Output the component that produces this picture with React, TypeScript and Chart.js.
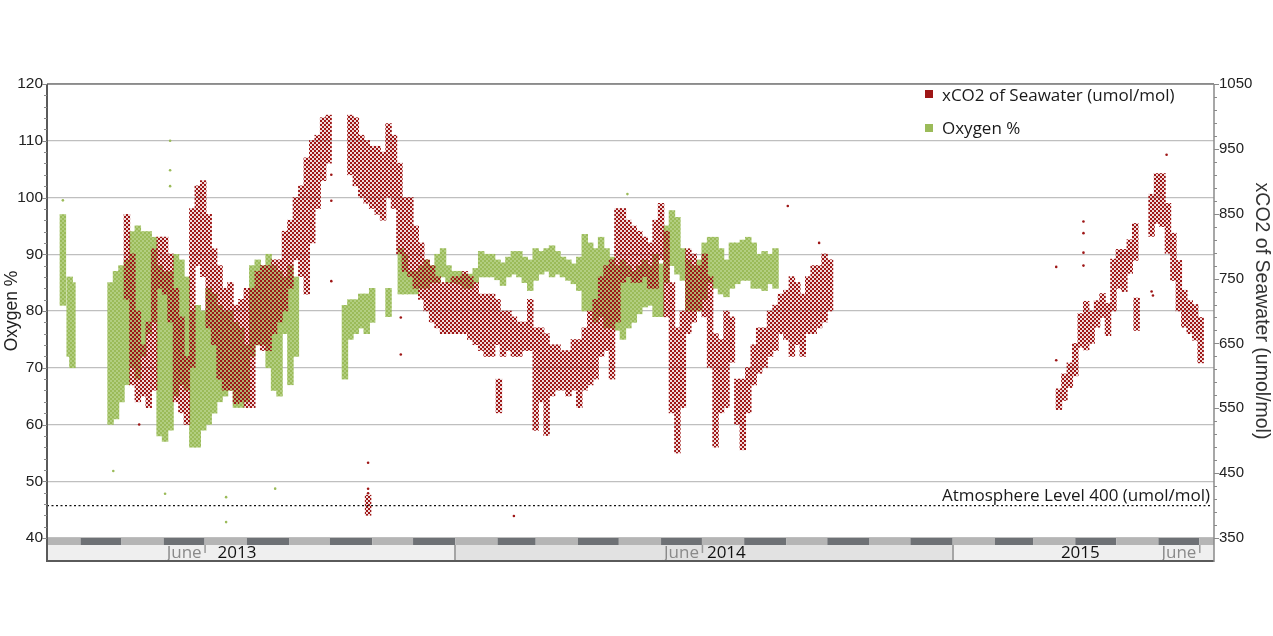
import { useEffect, useRef } from 'react';
import { Chart, registerables } from 'chart.js';

Chart.register(...registerables);

// x values are days counted from 1 Jan 2013
const axisStartDay = 65.35;
const axisEndDay = 921.8;
const atmosphereLevel = 400;

const co2Label = 'xCO2 of Seawater (umol/mol)';
const oxygenLabel = 'Oxygen %';
const yearLabels = ['2013', '2014', '2015'];

// [day, low, high] xCO2 in umol/mol
const co2Ranges: [number, number, number][] = [
  [124, 718, 849], [128, 586, 788], [132, 560, 700], [136, 569, 648], [140, 551, 683],
  [144, 578, 796], [148, 735, 814], [152, 726, 814], [156, 683, 788], [160, 560, 735],
  [164, 543, 691], [168, 525, 630], [172, 613, 858], [176, 770, 893], [180, 753, 901],
  [184, 674, 849], [188, 648, 796], [192, 595, 770], [196, 578, 735], [200, 578, 744],
  [204, 557, 709], [208, 560, 718], [212, 551, 735], [216, 551, 735], [220, 648, 761],
  [224, 639, 770], [228, 639, 770], [232, 665, 779], [236, 683, 779], [240, 700, 823],
  [244, 735, 840], [248, 779, 875], [252, 753, 893], [256, 726, 936], [260, 805, 963],
  [264, 858, 971], [268, 901, 998], [272, 928, 1002],
  [288, 910, 1002], [292, 893, 998], [296, 875, 971], [300, 866, 963], [301, 385, 416],
  [304, 858, 954], [308, 849, 954], [312, 840, 945], [316, 875, 989], [320, 858, 971],
  [324, 788, 928], [328, 761, 875], [332, 753, 875], [336, 735, 831], [340, 718, 805],
  [344, 700, 779], [348, 683, 770], [352, 674, 753], [356, 665, 744], [360, 665, 744],
  [364, 665, 753], [368, 665, 753], [372, 665, 761], [376, 656, 753], [380, 648, 744],
  [384, 639, 726], [388, 630, 726], [392, 630, 726], [396, 648, 718], [397, 543, 595],
  [400, 630, 700], [404, 639, 700], [408, 630, 691], [412, 630, 683], [416, 639, 683],
  [420, 639, 718], [424, 516, 674], [428, 560, 674], [432, 508, 665], [436, 569, 648],
  [440, 578, 648], [444, 578, 639], [448, 569, 639], [452, 578, 656], [456, 551, 656],
  [460, 578, 674], [464, 586, 700], [468, 595, 718], [472, 630, 753], [476, 639, 770],
  [480, 595, 779], [484, 683, 858], [488, 744, 858], [492, 753, 840], [496, 744, 831],
  [500, 744, 823], [504, 753, 814], [508, 735, 805], [512, 735, 840], [516, 779, 866],
  [520, 691, 823], [524, 543, 744], [528, 481, 674], [532, 551, 700], [536, 665, 796],
  [540, 683, 788], [544, 700, 770], [548, 691, 788], [552, 613, 753], [556, 490, 665],
  [560, 543, 656], [564, 551, 700], [568, 621, 691], [572, 525, 595], [576, 486, 595],
  [580, 543, 613], [584, 586, 648], [588, 604, 674], [592, 613, 674], [596, 630, 700],
  [600, 639, 709], [604, 665, 726], [608, 656, 732], [612, 630, 753], [616, 648, 744],
  [620, 630, 726], [624, 665, 753], [628, 665, 770], [632, 674, 770], [636, 683, 788],
  [640, 700, 779],
  [808, 548, 580], [812, 562, 603], [816, 582, 620], [820, 600, 650], [824, 644, 696],
  [828, 640, 715], [832, 650, 700], [836, 675, 716], [840, 690, 727], [844, 662, 712],
  [848, 700, 780], [852, 735, 795], [856, 730, 795], [860, 758, 810], [864, 778, 835],
  [865, 670, 720], [876, 815, 880], [880, 835, 912], [884, 830, 912], [888, 789, 866],
  [892, 747, 820], [896, 700, 778], [900, 675, 732], [904, 665, 716], [908, 655, 710],
  [912, 620, 690],
];

// isolated xCO2 readings [day, umol/mol]
const co2Points: [number, number][] = [
  [133, 525], [274, 910], [274, 870], [274, 746], [301, 466], [301, 426], [301, 419],
  [325, 690], [325, 633], [408, 384], [609, 862], [632, 805], [806, 768], [806, 624],
  [826, 838], [826, 820], [826, 790], [826, 770], [887, 941], [876, 730], [877, 724],
];

// [day, low, high] oxygen saturation in %
const oxygenRanges: [number, number, number][] = [
  [77, 81, 97], [82, 72, 86], [84, 70, 85],
  [112, 60, 85], [116, 61, 87], [120, 64, 88], [124, 67, 89], [128, 70, 94],
  [132, 68, 95], [136, 72, 94], [140, 76, 94], [144, 78, 93], [148, 58, 88],
  [152, 57, 87], [156, 59, 87], [160, 65, 90], [164, 67, 89], [168, 66, 86],
  [172, 56, 80], [176, 56, 81], [180, 59, 80], [184, 60, 84], [188, 62, 83],
  [192, 64, 81], [196, 65, 80], [200, 66, 80], [204, 63, 78], [208, 63, 77],
  [212, 64, 74], [216, 72, 88], [220, 74, 89], [224, 74, 88], [228, 70, 90],
  [232, 66, 88], [236, 65, 87], [240, 76, 86], [244, 67, 88], [248, 72, 86],
  [284, 68, 81], [288, 75, 82], [292, 76, 82], [296, 77, 83], [300, 76, 83],
  [304, 78, 84], [316, 79, 84],
  [325, 83, 91], [328, 83, 90], [332, 83, 87], [336, 83, 87], [340, 84, 88],
  [344, 84, 89], [348, 85, 88], [352, 85, 90], [356, 86, 91], [360, 85, 88],
  [364, 85, 87], [368, 84.7, 87], [372, 84, 86.5], [376, 84, 86.5], [380, 85, 87.5],
  [384, 86, 90.5], [388, 86, 90], [392, 86, 90], [396, 85.5, 89], [400, 84.5, 88.5],
  [404, 86, 89.5], [408, 86.5, 90.5], [412, 86, 90.5], [416, 85, 89.5], [420, 83.6, 89],
  [424, 85.4, 91], [428, 86.5, 90.5], [432, 87, 91], [436, 86, 91.5], [440, 86.5, 90.5],
  [444, 86, 89.5], [448, 85.4, 89], [452, 84.8, 88.3], [456, 83.6, 89.5], [460, 80, 93.5],
  [464, 80, 92], [468, 78, 91], [472, 79, 93], [476, 77, 91], [480, 77, 89.5],
  [484, 76.6, 88], [488, 75, 89], [492, 77, 88], [496, 78, 87], [500, 79.5, 88],
  [504, 80.7, 89], [508, 81, 88], [512, 79, 90], [516, 79, 88.3], [520, 85, 95],
  [524, 88, 97.7], [528, 86.5, 96.5], [532, 85.4, 91], [536, 80, 89], [540, 80, 88],
  [544, 80, 89], [548, 82, 92], [552, 85, 93], [556, 84, 93], [560, 83, 91],
  [564, 82.5, 89], [568, 84, 92], [572, 84.8, 92], [576, 85.4, 92.5], [580, 85.4, 93],
  [584, 84, 92], [588, 84, 90], [592, 83.6, 90.5], [596, 84.8, 90], [600, 84, 91],
];

// isolated oxygen readings [day, %]
const oxygenPoints: [number, number][] = [
  [77, 99.5], [114, 51.8], [152, 47.8], [155.7, 110], [155.7, 104.8], [155.7, 102],
  [196.8, 47.2], [196.8, 42.8], [232.8, 48.7], [491.3, 100.6],
];

const RED = '#9e1616';
const GREEN = '#9bbb59';
const FONT = '"Open Sans", sans-serif';
const AXIS_FONT = '"Liberation Sans", Arial, sans-serif';

function dotPattern(size: number, bg: string | null, fg: string, dots: number[][]) {
  const c = document.createElement('canvas');
  c.width = size;
  c.height = size;
  const g = c.getContext('2d')!;
  if (bg) {
    g.fillStyle = bg;
    g.fillRect(0, 0, size, size);
  }
  g.fillStyle = fg;
  dots.forEach(([x, y, w, h]) => g.fillRect(x, y, w, h));
  return g.createPattern(c, 'repeat')!;
}

const dayOf = (y: number, m: number) => (Date.UTC(y, m, 1) - Date.UTC(2013, 0, 1)) / 86400000;

const frameAndBand = {
  id: 'frameAndBand',
  afterDatasetsDraw(chart: any) {
    const { ctx, chartArea: a, scales } = chart;
    ctx.save();
    // atmosphere label
    ctx.font = `17px ${FONT}`;
    ctx.fillStyle = '#1a1a1a';
    ctx.textAlign = 'right';
    ctx.fillText(`Atmosphere Level ${atmosphereLevel} (umol/mol)`, a.right - 4, scales.y1.getPixelForValue(atmosphereLevel) - 5);
    // legend
    ctx.textAlign = 'left';
    ctx.fillStyle = RED;
    ctx.fillRect(925, 90, 8, 8);
    ctx.fillStyle = GREEN;
    ctx.fillRect(925, 124, 8, 8);
    ctx.fillStyle = '#1a1a1a';
    ctx.fillText(co2Label, 942, 100.5);
    ctx.fillText(oxygenLabel, 942, 133.5);
    ctx.restore();
  },
  afterDraw(chart: any) {
    const { ctx, chartArea: a, scales } = chart;
    const x = scales.x;
    const top = a.bottom;
    const stripeBottom = top + 7;
    const bandBottom = top + 23;
    ctx.save();
    ctx.beginPath();
    ctx.rect(a.left, top, a.right - a.left, 30);
    ctx.clip();
    for (let y = 2013; y <= 2015; y++) {
      const x0 = x.getPixelForValue(dayOf(y, 0));
      const x1 = x.getPixelForValue(dayOf(y + 1, 0));
      ctx.fillStyle = y === 2014 ? '#e2e2e2' : '#efefef';
      ctx.fillRect(x0, stripeBottom, x1 - x0, bandBottom - stripeBottom);
      for (let m = 0; m < 12; m++) {
        const m0 = x.getPixelForValue(dayOf(y, m));
        const m1 = x.getPixelForValue(dayOf(y, m + 1));
        ctx.fillStyle = m % 2 === 1 ? '#6e7175' : '#b5b5b5';
        ctx.fillRect(m0, top, m1 - m0, stripeBottom - top);
      }
    }
    ctx.strokeStyle = '#a5a5a5';
    ctx.lineWidth = 2;
    [2014, 2015].forEach((y) => {
      const px = Math.round(x.getPixelForValue(dayOf(y, 0)));
      ctx.beginPath();
      ctx.moveTo(px, stripeBottom);
      ctx.lineTo(px, bandBottom);
      ctx.stroke();
    });
    ctx.strokeStyle = '#9a9a9a';
    ctx.lineWidth = 1.5;
    ctx.font = `17px ${FONT}`;
    ctx.textAlign = 'left';
    const yearOffsets = [13, 5];
    yearLabels.forEach((label, i) => {
      const y = 2013 + i;
      const june = x.getPixelForValue(dayOf(y, 5));
      const july = x.getPixelForValue(dayOf(y, 6));
      ctx.beginPath();
      ctx.moveTo(july + 0.5, stripeBottom);
      ctx.lineTo(july + 0.5, stripeBottom + 8);
      ctx.stroke();
      ctx.fillStyle = '#8a8a8a';
      ctx.fillText('June', june + 3, bandBottom - 3);
      ctx.fillStyle = '#111';
      if (i < 2) {
        ctx.fillText(label, july + yearOffsets[i], bandBottom - 3);
      } else {
        const start = x.getPixelForValue(dayOf(y, 0));
        ctx.textAlign = 'center';
        ctx.fillText(label, (start + a.right) / 2 - 3, bandBottom - 3);
        ctx.textAlign = 'left';
      }
    });
    ctx.restore();

    // frame
    ctx.save();
    ctx.strokeStyle = '#7a7a7a';
    ctx.lineWidth = 1.5;
    ctx.beginPath();
    ctx.moveTo(a.left, a.top);
    ctx.lineTo(a.right, a.top);
    ctx.stroke();
    ctx.strokeStyle = '#5a5a5a';
    ctx.lineWidth = 2;
    ctx.beginPath();
    ctx.moveTo(a.left, bandBottom);
    ctx.lineTo(a.right, bandBottom);
    ctx.moveTo(a.left, a.top);
    ctx.lineTo(a.left, bandBottom + 1);
    ctx.stroke();
    ctx.strokeStyle = '#8a8a8a';
    ctx.lineWidth = 1.5;
    ctx.beginPath();
    ctx.moveTo(a.right, a.top);
    ctx.lineTo(a.right, bandBottom + 1);
    ctx.stroke();
    // minor ticks
    ctx.lineWidth = 1;
    ctx.strokeStyle = '#8a8a8a';
    ctx.beginPath();
    for (let v = 40; v <= 120; v += 2) {
      const py = Math.round(scales.y.getPixelForValue(v)) + 0.5;
      const len = v % 10 === 0 ? 5 : 3;
      ctx.moveTo(a.left - len, py);
      ctx.lineTo(a.left, py);
    }
    for (let v = 350; v <= 1050; v += 20) {
      const py = Math.round(scales.y1.getPixelForValue(v)) + 0.5;
      const len = (v - 350) % 100 === 0 ? 5 : 3;
      ctx.moveTo(a.right, py);
      ctx.lineTo(a.right + len, py);
    }
    ctx.stroke();
    ctx.restore();
  },
};

const App = () => {
  const canvasRef = useRef<HTMLCanvasElement>(null);

  useEffect(() => {
    if (!canvasRef.current) return;

    const redPattern = dotPattern(4, 'rgba(158,22,22,0.14)', RED, [
      [0, 0, 2, 2], [2, 2, 2, 2],
    ]);
    const greenPattern = dotPattern(4, '#b2ce80', GREEN, [[0, 0, 2, 2], [2, 2, 2, 2]]);

    const chart = new Chart(canvasRef.current, {
      type: 'bar',
      data: {
        datasets: [
          {
            type: 'line',
            label: 'atmosphere',
            data: [
              { x: axisStartDay, y: atmosphereLevel },
              { x: axisEndDay - 2, y: atmosphereLevel },
            ],
            yAxisID: 'y1',
            borderColor: '#111',
            borderWidth: 1.3,
            borderDash: [2, 2.5],
            pointRadius: 0,
            order: 0,
          },
          {
            type: 'scatter',
            label: 'co2 points',
            data: co2Points.map(([d, v]) => ({ x: d, y: v })),
            yAxisID: 'y1',
            backgroundColor: RED,
            borderWidth: 0,
            pointRadius: 1.3,
            order: 1,
          },
          {
            label: co2Label,
            data: co2Ranges.map(([d, lo, hi]) => ({ x: d, y: [lo, hi] })),
            yAxisID: 'y1',
            backgroundColor: redPattern,
            borderWidth: 0,
            grouped: false,
            barThickness: 5.8,
            order: 2,
          },
          {
            type: 'scatter',
            label: 'oxygen points',
            data: oxygenPoints.map(([d, v]) => ({ x: d, y: v })),
            yAxisID: 'y',
            backgroundColor: GREEN,
            borderWidth: 0,
            pointRadius: 1.3,
            order: 3,
          },
          {
            label: oxygenLabel,
            data: oxygenRanges.map(([d, lo, hi]) => ({ x: d, y: [lo, hi] })),
            yAxisID: 'y',
            backgroundColor: greenPattern,
            borderWidth: 0,
            grouped: false,
            barThickness: 5.8,
            order: 4,
          },
        ],
      } as any,
      options: {
        responsive: false,
        animation: false,
        events: [],
        layout: { padding: { top: 84, bottom: 98, left: 0, right: 0 } },
        plugins: { legend: { display: false }, tooltip: { enabled: false } },
        scales: {
          x: { type: 'linear', min: axisStartDay, max: axisEndDay, display: false, offset: false },
          y: {
            position: 'left',
            min: 40,
            max: 120,
            ticks: {
              stepSize: 10,
              color: '#222',
              padding: 4,
              font: { family: AXIS_FONT, size: 15.5 },
              callback: (v: number) => String(v),
            },
            grid: { color: '#bfbfbf', lineWidth: 1.2, drawTicks: false },
            border: { display: false },
            title: {
              display: true,
              text: oxygenLabel,
              color: '#222',
              font: { family: AXIS_FONT, size: 17.5 },
              padding: { top: 2, bottom: 0 },
            },
            afterFit: (s: any) => {
              s.width = 47;
            },
          },
          y1: {
            position: 'right',
            min: 350,
            max: 1050,
            ticks: {
              stepSize: 100,
              color: '#222',
              padding: 5,
              font: { family: AXIS_FONT, size: 15 },
              callback: (v: number) => String(v),
            },
            grid: { display: false, drawTicks: false },
            border: { display: false },
            title: {
              display: true,
              text: co2Label,
              color: '#333',
              font: { family: AXIS_FONT, size: 19.5 },
              padding: { top: 0, bottom: 0 },
            },
            afterFit: (s: any) => {
              s.width = 59;
            },
          },
        },
      } as any,
      plugins: [frameAndBand],
    });

    return () => {
      chart.destroy();
    };
  }, []);

  return (
    <div style={{ position: 'fixed', left: 0, top: 0, width: 1273, height: 636, background: '#fff' }}>
      <canvas ref={canvasRef} width={1273} height={636} />
    </div>
  );
};

export default App;
